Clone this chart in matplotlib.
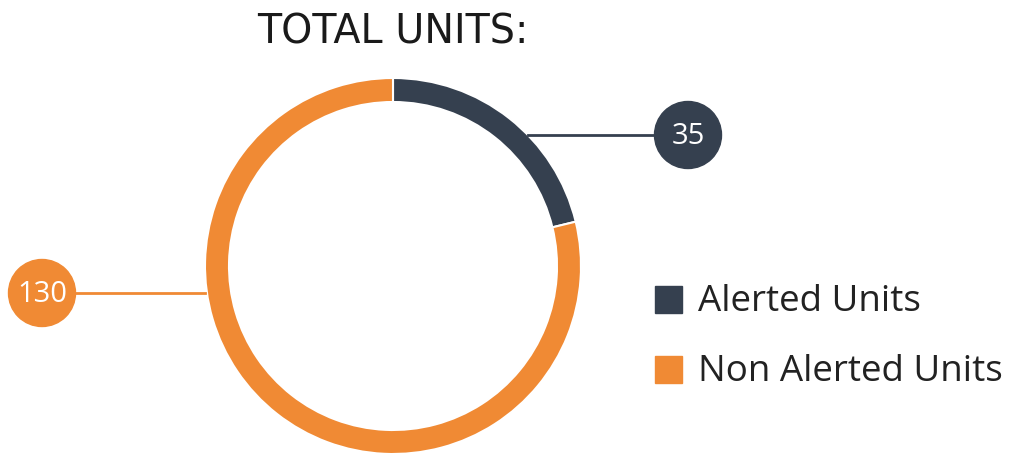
import matplotlib.pyplot as plt
from matplotlib.patches import Circle, Rectangle

# data
labels = ['Alerted Units', 'Non Alerted Units']
values = [35, 130]
colors = ['#35404f', '#f08a34']
title = 'TOTAL UNITS:'

W, H = 1016, 456
fig = plt.figure(figsize=(W/100, H/100), dpi=100)
ax = fig.add_axes([0, 0, 1, 1])

cx, cy, r, ring = 393, H - 267, 188, 24
ax.pie(values, colors=colors, startangle=90, counterclock=False,
       center=(cx, cy), radius=r, frame=True,
       wedgeprops=dict(width=ring, edgecolor='white', linewidth=1.5))
ax.set_xlim(0, W)
ax.set_ylim(0, H)
ax.set_aspect('equal')
ax.axis('off')

# value bubbles with leader lines
bub = [(688, H - 136, 528), (42, H - 294, 205)]
for (bx, by, lx), v, c in zip(bub, values, colors):
    ax.plot([lx, bx], [by, by], color=c, lw=2, zorder=1)
    ax.add_patch(Circle((bx, by), 33.5, color=c, zorder=2))
    ax.text(bx, by - 1, str(v), color='white', fontsize=21, family='Open Sans',
            ha='center', va='center', zorder=3)

# legend
for i, (lab, c) in enumerate(zip(labels, colors)):
    ly = H - 300 - 70*i
    ax.add_patch(Rectangle((655, ly - 13.5), 27, 27, color=c))
    ax.text(698, ly - 2, lab, fontsize=26.5, family='Open Sans', color='#222222',
            va='center', ha='left')

ax.text(cx, H - 43, title, fontsize=28.5, family='DejaVu Sans', color='#1a1a1a',
        ha='center', va='baseline')

fig.savefig('out.png', dpi=100)
